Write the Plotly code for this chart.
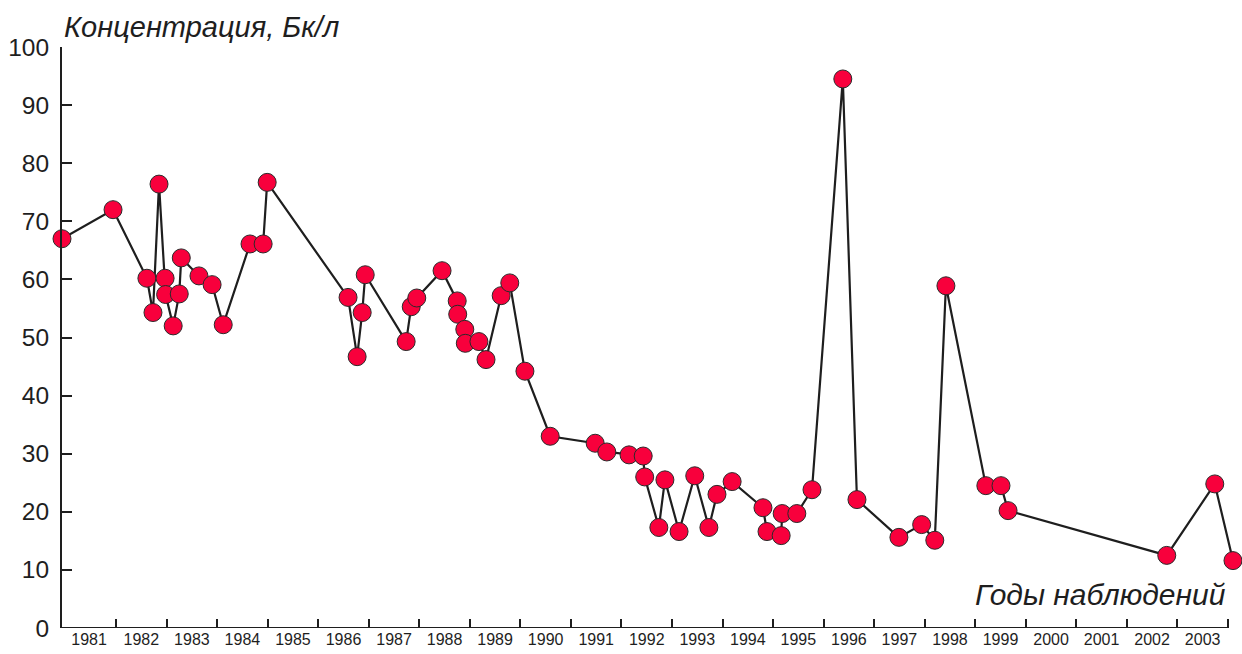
import plotly.graph_objects as go

# Observation dates (decimal years) and measured concentration, Bq/l
obs_year = [
    1980.93, 1981.94, 1982.61, 1982.73, 1982.85, 1982.97, 1982.98, 1983.13,
    1983.25, 1983.29, 1983.64, 1983.90, 1984.12, 1984.65, 1984.91, 1984.99,
    1986.59, 1986.77, 1986.87, 1986.93, 1987.74, 1987.84, 1987.95, 1988.45,
    1988.75, 1988.76, 1988.90, 1988.91, 1989.18, 1989.32, 1989.62, 1989.79,
    1990.09, 1990.59, 1991.48, 1991.71, 1992.15, 1992.43, 1992.46, 1992.74,
    1992.86, 1993.14, 1993.45, 1993.73, 1993.89, 1994.19, 1994.80, 1994.88,
    1995.16, 1995.18, 1995.47, 1995.77, 1996.38, 1996.66, 1997.49, 1997.94,
    1998.20, 1998.42, 1999.21, 1999.51, 1999.65, 2002.79, 2003.74, 2004.10,
]
concentration = [
    67.0, 72.0, 60.2, 54.3, 76.4, 60.2, 57.4, 52.0,
    57.5, 63.7, 60.6, 59.1, 52.2, 66.1, 66.1, 76.7,
    56.9, 46.7, 54.3, 60.8, 49.3, 55.3, 56.8, 61.5,
    56.3, 54.0, 51.4, 49.0, 49.3, 46.2, 57.2, 59.4,
    44.2, 33.0, 31.8, 30.3, 29.8, 29.6, 26.0, 17.3,
    25.5, 16.6, 26.2, 17.3, 23.0, 25.2, 20.7, 16.6,
    15.9, 19.7, 19.7, 23.8, 94.5, 22.1, 15.6, 17.8,
    15.1, 58.9, 24.5, 24.5, 20.2, 12.5, 24.8, 11.6,
]

# Year bins along the time axis
year_labels = [str(y) for y in range(1981, 2004)]
axis_start = 1980.93
axis_end = 2004.0
bin_edges = list(range(1982, 2005))
label_pos = [(axis_start + 1982) / 2] + [y + 0.5 for y in range(1982, 2004)]

y_ticks = list(range(0, 101, 10))

INK = "#1e1e1e"
FONT = "Liberation Sans, Arial, sans-serif"

fig = go.Figure()
fig.add_trace(go.Scatter(
    x=obs_year,
    y=concentration,
    mode="lines+markers",
    line=dict(color=INK, width=2.2),
    marker=dict(size=18, color="#F8003C", line=dict(color="#2a2a2a", width=1)),
    cliponaxis=False,
    showlegend=False,
))

# Horizontal axis line ending at the last year boundary
fig.add_shape(type="line", xref="x", yref="y",
              x0=axis_start, x1=axis_end, y0=0, y1=0,
              line=dict(color=INK, width=2))

fig.add_annotation(text="<i>Концентрация, Бк/л</i>", xref="paper", yref="paper",
                   x=0, y=1, xanchor="left", yanchor="middle", yshift=20,
                   showarrow=False, font=dict(family=FONT, size=29, color=INK))
fig.add_annotation(text="<i>Годы наблюдений</i>", xref="x", yref="y",
                   x=axis_end, y=5.8, xanchor="right", yanchor="middle",
                   showarrow=False, font=dict(family=FONT, size=30, color=INK))

fig.update_layout(
    width=1242, height=654, autosize=False,
    margin=dict(l=62, r=6, t=47, b=23),
    paper_bgcolor="white", plot_bgcolor="white",
    font=dict(family=FONT, color=INK),
    xaxis=dict(
        range=[axis_start, 2004.16],
        showline=False, showgrid=False, zeroline=False,
        tickmode="array", tickvals=label_pos, ticktext=year_labels,
        ticks="", tickfont=dict(size=16, color=INK),
        minor=dict(tickmode="array", tickvals=bin_edges, ticks="inside",
                   ticklen=9, tickwidth=2, tickcolor=INK, showgrid=False),
    ),
    yaxis=dict(
        range=[0, 100],
        showline=True, linecolor=INK, linewidth=2,
        showgrid=False, zeroline=False,
        tickmode="array", tickvals=y_ticks,
        ticks="inside", ticklen=10, tickwidth=2, tickcolor=INK,
        tickfont=dict(size=24.5, color=INK),
        ticklabelstandoff=6,
    ),
)

fig.write_html("out.html")
